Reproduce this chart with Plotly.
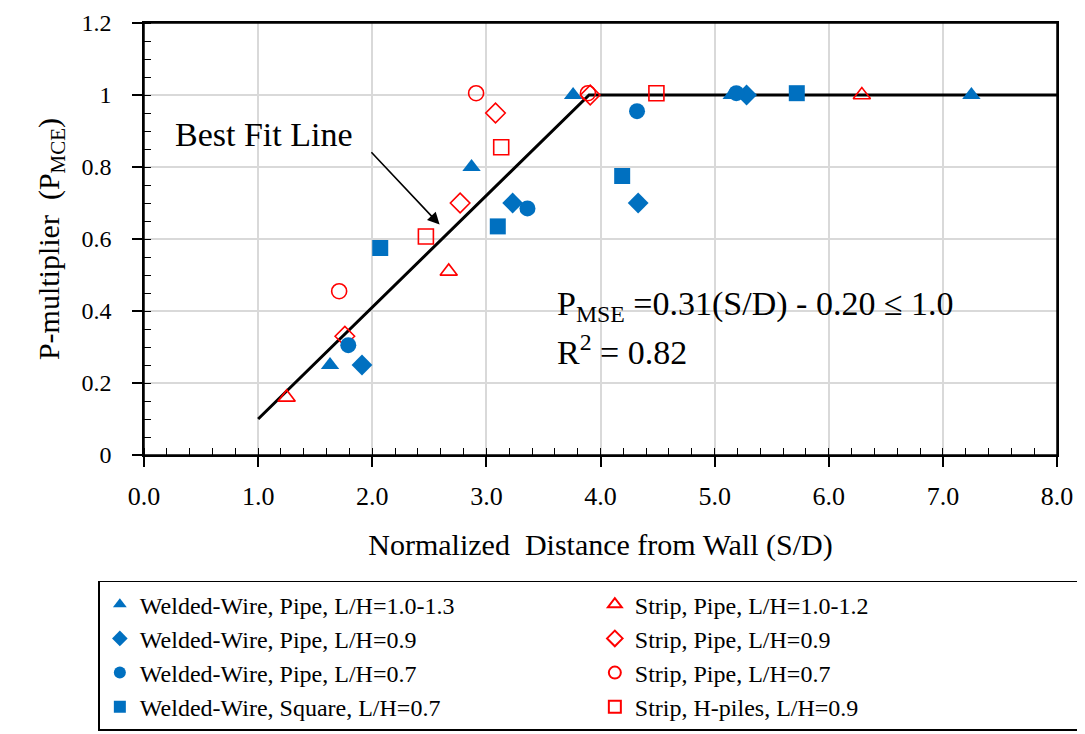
import plotly.graph_objects as go

blue = "#0070C0"
red = "#FF0000"
serif = "Liberation Serif, Times New Roman, serif"

# Welded-Wire series (filled blue)
ww_tri_x = [1.63, 2.87, 3.76, 5.15, 7.25]
ww_tri_y = [0.25, 0.80, 1.00, 1.00, 1.00]
ww_dia_x = [1.91, 3.23, 4.33, 5.28]
ww_dia_y = [0.25, 0.70, 0.70, 1.00]
ww_cir_x = [1.79, 3.36, 4.32, 5.19]
ww_cir_y = [0.305, 0.685, 0.955, 1.005]
ww_sq_x = [2.07, 3.10, 4.19, 5.72]
ww_sq_y = [0.575, 0.635, 0.775, 1.005]

# Strip series (open red)
st_tri_x = [1.25, 2.67, 6.29]
st_tri_y = [0.16, 0.51, 1.00]
st_dia_x = [1.76, 2.77, 3.08, 3.91]
st_dia_y = [0.33, 0.70, 0.95, 1.00]
st_cir_x = [1.71, 2.91, 3.89]
st_cir_y = [0.455, 1.005, 1.005]
st_sq_x = [2.47, 3.13, 4.49]
st_sq_y = [0.607, 0.855, 1.005]

# best fit line
fit_x = [1.0, 3.9, 8.0]
fit_y = [0.10, 1.0, 1.0]

series = [
    ("Welded-Wire, Pipe, L/H=1.0-1.3", ww_tri_x, ww_tri_y, "triangle-up", True),
    ("Strip, Pipe, L/H=1.0-1.2", st_tri_x, st_tri_y, "triangle-up-open", False),
    ("Welded-Wire, Pipe, L/H=0.9", ww_dia_x, ww_dia_y, "diamond", True),
    ("Strip, Pipe, L/H=0.9", st_dia_x, st_dia_y, "diamond-open", False),
    ("Welded-Wire, Pipe, L/H=0.7", ww_cir_x, ww_cir_y, "circle", True),
    ("Strip, Pipe, L/H=0.7", st_cir_x, st_cir_y, "circle-open", False),
    ("Welded-Wire, Square, L/H=0.7", ww_sq_x, ww_sq_y, "square", True),
    ("Strip, H-piles, L/H=0.9", st_sq_x, st_sq_y, "square-open", False),
]

fig = go.Figure()

fig.add_trace(go.Scatter(
    x=fit_x, y=fit_y, mode="lines",
    line=dict(color="black", width=3),
    showlegend=False, hoverinfo="skip"
))

for name, xs, ys, sym, filled in series:
    fig.add_trace(go.Scatter(
        x=xs, y=ys, mode="markers", name=name,
        marker=dict(
            symbol=sym,
            size=16 if filled else 15,
            color=blue if filled else red,
            line=dict(width=0 if filled else 1.6, color=blue if filled else red)
        )
    ))

fig.add_annotation(
    x=0.25, y=0.889, xref="x", yref="y", text="Best Fit Line",
    showarrow=False, xanchor="left", yanchor="middle",
    font=dict(family=serif, size=34, color="black")
)
fig.add_annotation(
    x=2.59, y=0.64, ax=1.98, ay=0.845, xref="x", yref="y", axref="x", ayref="y",
    text="", showarrow=True, arrowhead=2, arrowsize=1.5, arrowwidth=1.6, arrowcolor="black"
)
fig.add_annotation(
    x=3.60, y=0.413, xref="x", yref="y",
    text="P<sub>MSE</sub> =0.31(S/D) - 0.20 \u2264 1.0",
    showarrow=False, xanchor="left", yanchor="middle",
    font=dict(family=serif, size=34, color="black")
)
fig.add_annotation(
    x=3.60, y=0.292, xref="x", yref="y",
    text="R<sup>2</sup> = 0.82",
    showarrow=False, xanchor="left", yanchor="middle",
    font=dict(family=serif, size=34, color="black")
)

# plot frame
fig.add_shape(
    type="rect", xref="paper", yref="paper", x0=0, x1=1, y0=0, y1=1,
    line=dict(color="black", width=1.5), layer="above"
)

# page has an 8px body margin, so the figure is drawn 8px smaller and shifted
fig.update_layout(
    width=1077, height=726, autosize=False,
    margin=dict(l=136, r=28, t=15, b=279, autoexpand=False),
    plot_bgcolor="white", paper_bgcolor="white",
    font=dict(family=serif, size=24, color="black"),
    legend=dict(
        orientation="h", x=-0.05, y=-0.638, xanchor="left", yanchor="bottom",
        bordercolor="black", borderwidth=1.5, entrywidth=450,
        font=dict(family=serif, size=24, color="black"),
        itemsizing="constant", tracegroupgap=0
    ),
    xaxis=dict(
        range=[0, 8], dtick=1, tickformat=".1f", automargin=False,
        ticklabeloverflow="allow",
        showgrid=True, gridcolor="#D9D9D9", gridwidth=1.5,
        showline=True, linecolor="black", linewidth=1.5, mirror=True,
        ticks="outside", ticklen=10, tickwidth=1.5, tickcolor="black",
        ticklabelstandoff=7,
        minor=dict(dtick=0.2, ticks="inside", ticklen=7, tickwidth=1.2, tickcolor="black", showgrid=False),
        zeroline=False,
        tickfont=dict(family=serif, size=26),
        title=dict(text="Normalized\u00a0 Distance from Wall (S/D)",
                   font=dict(family=serif, size=30), standoff=24)
    ),
    yaxis=dict(
        range=[0, 1.2], dtick=0.2, automargin=False,
        ticklabeloverflow="allow",
        showgrid=True, gridcolor="#D9D9D9", gridwidth=1.5,
        showline=True, linecolor="black", linewidth=1.5, mirror=True,
        ticks="outside", ticklen=10, tickwidth=1.5, tickcolor="black",
        ticklabelstandoff=16,
        minor=dict(dtick=0.05, ticks="inside", ticklen=7, tickwidth=1.2, tickcolor="black", showgrid=False),
        zeroline=False,
        tickfont=dict(family=serif, size=24),
        title=dict(text="P-multiplier\u00a0 (P<sub>MCE</sub>)",
                   font=dict(family=serif, size=30), standoff=13)
    ),
)

fig.write_html("out.html")
